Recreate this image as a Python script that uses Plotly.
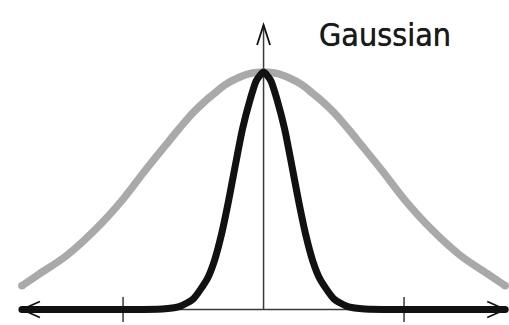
import plotly.graph_objects as go

# Sample positions along the horizontal axis (tick spacing = 1)
x_pts = [-1.72, -1.6, -1.4, -1.2, -1.0, -0.85, -0.7, -0.6, -0.5, -0.4, -0.35, -0.3,
         -0.25, -0.2, -0.15, -0.1, -0.05, 0.0, 0.05, 0.1, 0.15, 0.2, 0.25, 0.3,
         0.35, 0.4, 0.5, 0.6, 0.7, 0.85, 1.0, 1.2, 1.4, 1.6, 1.72]

# Wide (grey) bell curve
wide_y = [0.10, 0.148, 0.228, 0.335, 0.465, 0.58, 0.69, 0.762, 0.83, 0.886, 0.91, 0.935,
          0.955, 0.97, 0.983, 0.993, 0.998, 1.0, 0.998, 0.993, 0.983, 0.97, 0.955, 0.935,
          0.91, 0.886, 0.83, 0.762, 0.69, 0.58, 0.465, 0.335, 0.228, 0.148, 0.10]

# Narrow (black) bell curve
narrow_y = [0.0, 0.0, 0.0, 0.0, 0.0, 0.0, 0.003, 0.012, 0.045, 0.13, 0.205, 0.315,
            0.455, 0.61, 0.76, 0.875, 0.965, 1.0, 0.965, 0.875, 0.76, 0.61, 0.455, 0.315,
            0.205, 0.13, 0.045, 0.012, 0.003, 0.0, 0.0, 0.0, 0.0, 0.0, 0.0]

tick_x = [-1.0, 1.0]
title_text = "Gaussian"

GREY = "#a9a9a9"
INK = "#111111"
AXIS = "#3a3a3a"

x_lo, x_hi = x_pts[0], x_pts[-1]
y_arrow_top = 1.198

fig = go.Figure()

# thin axis lines
fig.add_shape(type="line", x0=x_lo, x1=x_hi, y0=0, y1=0,
              line=dict(color=AXIS, width=1.5), layer="below")
fig.add_shape(type="line", x0=0, x1=0, y0=0, y1=y_arrow_top,
              line=dict(color=AXIS, width=1.5), layer="below")

# tick marks crossing the horizontal axis
fig.add_trace(go.Scatter(x=tick_x, y=[0] * len(tick_x), mode="markers",
                         marker=dict(symbol="line-ns-open", size=18, color=AXIS,
                                     line=dict(color=AXIS, width=1.5)),
                         hoverinfo="skip"))

# grey curve with rounded end caps
fig.add_trace(go.Scatter(x=x_pts, y=wide_y, mode="lines",
                         line=dict(color=GREY, width=7.5, shape="spline", smoothing=1.0),
                         hoverinfo="skip"))
fig.add_trace(go.Scatter(x=[x_pts[0], x_pts[-1]], y=[wide_y[0], wide_y[-1]], mode="markers",
                         marker=dict(color=GREY, size=7.5, line=dict(width=0)),
                         hoverinfo="skip"))

# black curve running along the baseline
fig.add_trace(go.Scatter(x=x_pts, y=narrow_y, mode="lines",
                         line=dict(color=INK, width=7, shape="spline", smoothing=0.6),
                         hoverinfo="skip"))
fig.add_trace(go.Scatter(x=[x_pts[0], x_pts[-1]], y=[narrow_y[0], narrow_y[-1]], mode="markers",
                         marker=dict(color=INK, size=7, line=dict(width=0)),
                         hoverinfo="skip"))

# open arrowheads at the axis ends (pixel-sized, anchored in data space)
def chevron(xa, ya, path):
    fig.add_shape(type="path", xsizemode="pixel", ysizemode="pixel",
                  xanchor=xa, yanchor=ya, path=path,
                  line=dict(color=INK, width=1.8))

chevron(x_lo, 0, "M 18,8 L 0,0 L 18,-8")
chevron(x_hi, 0, "M -18,8 L 0,0 L -18,-8")
chevron(0, y_arrow_top, "M -6.5,-20 L 0,0 L 6.5,-20")

fig.add_annotation(text=title_text, xref="paper", yref="paper",
                   x=0.756, y=0.893, showarrow=False, xanchor="center", yanchor="middle",
                   font=dict(family="DejaVu Sans Condensed, Liberation Sans Narrow, DejaVu Sans",
                             size=32, color="#1a1a1a",
                             shadow="0px 0px 0.7px #1a1a1a"))

fig.update_layout(
    width=509, height=325,
    margin=dict(l=0, r=0, t=0, b=0),
    paper_bgcolor="white", plot_bgcolor="white",
    showlegend=False,
    xaxis=dict(range=[-1.876, 1.747], visible=False, fixedrange=True),
    yaxis=dict(range=[-0.0653, 1.3032], visible=False, fixedrange=True),
)

fig.write_html("out.html")
